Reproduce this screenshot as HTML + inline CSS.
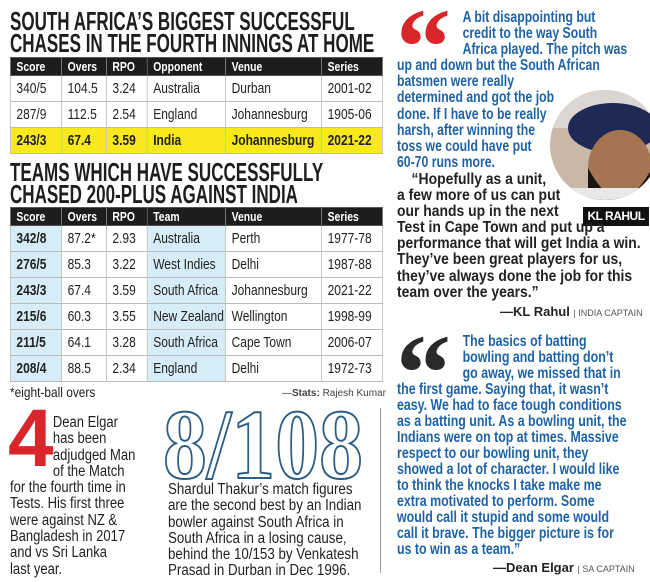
<!DOCTYPE html>
<html><head><meta charset="utf-8"><style>
*{margin:0;padding:0;box-sizing:border-box}
body{width:650px;height:582px;background:#fff;position:relative;overflow:hidden;font-family:"Liberation Sans",sans-serif;color:#222}
.a{position:absolute;transform-origin:0 0;white-space:nowrap}
.h{font-weight:bold;font-size:26px;line-height:22px;color:#1e1e1e;transform:scaleX(0.655)}
table{border-collapse:collapse;position:absolute;left:10px;width:465px;font-size:15px;table-layout:fixed;transform:scaleX(0.8);transform-origin:0 0}
td,th{border:1px solid #bbb;padding:0 0 0 7px;text-align:left;white-space:nowrap;overflow:hidden}
th{background:#1d1d1d;color:#fff;font-size:13px;height:18px;border-color:#555}
td{height:26px}
.y td{background:#f8e81c;font-weight:bold}
.b{background:#d6ecf6}
.bq{font-weight:bold;font-size:15.3px;line-height:16.1px;transform:scaleX(0.8)}
.t{font-size:15.5px;line-height:16.3px}
</style></head><body>
<div class="a h" style="left:10px;top:10px">SOUTH AFRICA’S BIGGEST SUCCESSFUL<br>CHASES IN THE FOURTH INNINGS AT HOME</div>
<table style="top:57px">
<colgroup><col style="width:64px"><col style="width:56px"><col style="width:51px"><col style="width:98px"><col style="width:120px"><col style="width:76px"></colgroup>
<tr><th>Score</th><th>Overs</th><th>RPO</th><th>Opponent</th><th>Venue</th><th>Series</th></tr>
<tr><td>340/5</td><td>104.5</td><td>3.24</td><td>Australia</td><td>Durban</td><td>2001-02</td></tr>
<tr><td>287/9</td><td>112.5</td><td>2.54</td><td>England</td><td>Johannesburg</td><td>1905-06</td></tr>
<tr class="y"><td>243/3</td><td>67.4</td><td>3.59</td><td>India</td><td>Johannesburg</td><td>2021-22</td></tr>
</table>
<div class="a h" style="left:10px;top:161px">TEAMS WHICH HAVE SUCCESSFULLY<br>CHASED 200-PLUS AGAINST INDIA</div>
<table style="top:207px">
<colgroup><col style="width:64px"><col style="width:56px"><col style="width:51px"><col style="width:98px"><col style="width:120px"><col style="width:76px"></colgroup>
<tr><th>Score</th><th>Overs</th><th>RPO</th><th>Team</th><th>Venue</th><th>Series</th></tr>
<tr><td class="b"><b>342/8</b></td><td>87.2*</td><td>2.93</td><td class="b">Australia</td><td>Perth</td><td>1977-78</td></tr>
<tr><td class="b"><b>276/5</b></td><td>85.3</td><td>3.22</td><td class="b">West Indies</td><td>Delhi</td><td>1987-88</td></tr>
<tr><td class="b"><b>243/3</b></td><td>67.4</td><td>3.59</td><td class="b">South Africa</td><td>Johannesburg</td><td>2021-22</td></tr>
<tr><td class="b"><b>215/6</b></td><td>60.3</td><td>3.55</td><td class="b">New Zealand</td><td>Wellington</td><td>1998-99</td></tr>
<tr><td class="b"><b>211/5</b></td><td>64.1</td><td>3.28</td><td class="b">South Africa</td><td>Cape Town</td><td>2006-07</td></tr>
<tr><td class="b"><b>208/4</b></td><td>88.5</td><td>2.34</td><td class="b">England</td><td>Delhi</td><td>1972-73</td></tr>
</table>
<div class="a" style="left:10px;top:384px;font-size:14px;transform:scaleX(0.85)">*eight-ball overs</div>
<div class="a" style="left:282px;top:388px;font-size:10px;color:#444">—<b>Stats:</b> Rajesh Kumar</div>

<div class="a" style="left:8px;top:398px;font-size:82px;font-weight:bold;color:#d8262a;line-height:82px">4</div>
<div class="a t" style="left:10px;top:415px;transform:scaleX(0.84)">
<div style="padding-left:51px">Dean Elgar<br>has been<br>adjudged Man<br>of the Match</div>for the fourth time in<br>Tests. His first three<br>were against NZ &amp;<br>Bangladesh in 2017<br>and vs Sri Lanka<br>last year.</div>
<svg class="a" style="left:160px;top:400px" width="210" height="85"><text x="3" y="78" font-family="Liberation Serif,serif" font-weight="bold" font-size="100" fill="#fff" stroke="#2b5d86" stroke-width="2" textLength="200" lengthAdjust="spacingAndGlyphs">8/108</text></svg>
<div class="a t" style="left:168px;top:482px;transform:scaleX(0.86)">Shardul Thakur’s match figures<br>are the second best by an Indian<br>bowler against South Africa in<br>South Africa in a losing cause,<br>behind the 10/153 by Venkatesh<br>Prasad in Durban in Dec 1996.</div>
<div class="a" style="left:380px;top:408px;width:1px;height:165px;background:#999"></div>

<div class="a" style="left:396px;top:-8px;font-size:110px;font-weight:bold;color:#d8262a;font-family:'Liberation Serif',serif;line-height:110px">“</div>
<div class="a bq" style="left:397px;top:10px;color:#1f63a6">
<div style="padding-left:82px">A bit disappointing but<br>credit to the way South<br>Africa played. The pitch was</div>up and down but the South African<br>batsmen were really<br>determined and got the job<br>done. If I have to be really<br>harsh, after winning the<br>toss we could have put<br>60-70 runs more.</div>
<svg class="a" style="left:548px;top:88px" width="102" height="112"><defs><clipPath id="c"><circle cx="57" cy="57" r="55"/></clipPath></defs>
<g clip-path="url(#c)"><rect width="120" height="120" fill="#c9b8a8"/><rect y="0" width="120" height="40" fill="#dcd6d2"/>
<ellipse cx="65" cy="40" rx="45" ry="25" fill="#1e2a55"/><ellipse cx="72" cy="80" rx="32" ry="38" fill="#a57453"/><path d="M40 80 Q72 140 104 80 L104 120 L40 120Z" fill="#1b1511"/><rect x="20" y="100" width="100" height="20" fill="#e8e8e8"/></g></svg>
<div class="a" style="left:583px;top:207px;width:66px;height:19px;background:#111;color:#fff;font-weight:bold;font-size:12px;text-align:center;line-height:19px;letter-spacing:-0.5px">KL RAHUL</div>
<div class="a bq" style="left:397px;top:172px;color:#222;line-height:16.1px;transform:scaleX(0.91)"><span style="padding-left:16px">“Hopefully as a unit,</span><br>a few more of us can put<br>our hands up in the next<br>Test in Cape Town and put up a<br>performance that will get India a win.<br>They’ve been great players for us,<br>they’ve always done the job for this<br>team over the years.”</div>
<div class="a" style="left:500px;top:304px;font-size:13px;font-weight:bold">—KL Rahul <span style="font-weight:normal;font-size:9px;color:#555">| INDIA CAPTAIN</span></div>

<div class="a" style="left:396px;top:318px;font-size:110px;font-weight:bold;color:#2a2a2a;font-family:'Liberation Serif',serif;line-height:110px">“</div>
<div class="a bq" style="left:397px;top:334px;color:#1f63a6;line-height:16px;transform:scaleX(0.81)">
<div style="padding-left:81px">The basics of batting<br>bowling and batting don’t<br>go away, we missed that in</div>the first game. Saying that, it wasn’t<br>easy. We had to face tough conditions<br>as a batting unit. As a bowling unit, the<br>Indians were on top at times. Massive<br>respect to our bowling unit, they<br>showed a lot of character. I would like<br>to think the knocks I take make me<br>extra motivated to perform. Some<br>would call it stupid and some would<br>call it brave. The bigger picture is for<br>us to win as a team.”</div>
<div class="a" style="left:493px;top:560px;font-size:13px;font-weight:bold">—Dean Elgar <span style="font-weight:normal;font-size:9px;color:#555">| SA CAPTAIN</span></div>
</body></html>
